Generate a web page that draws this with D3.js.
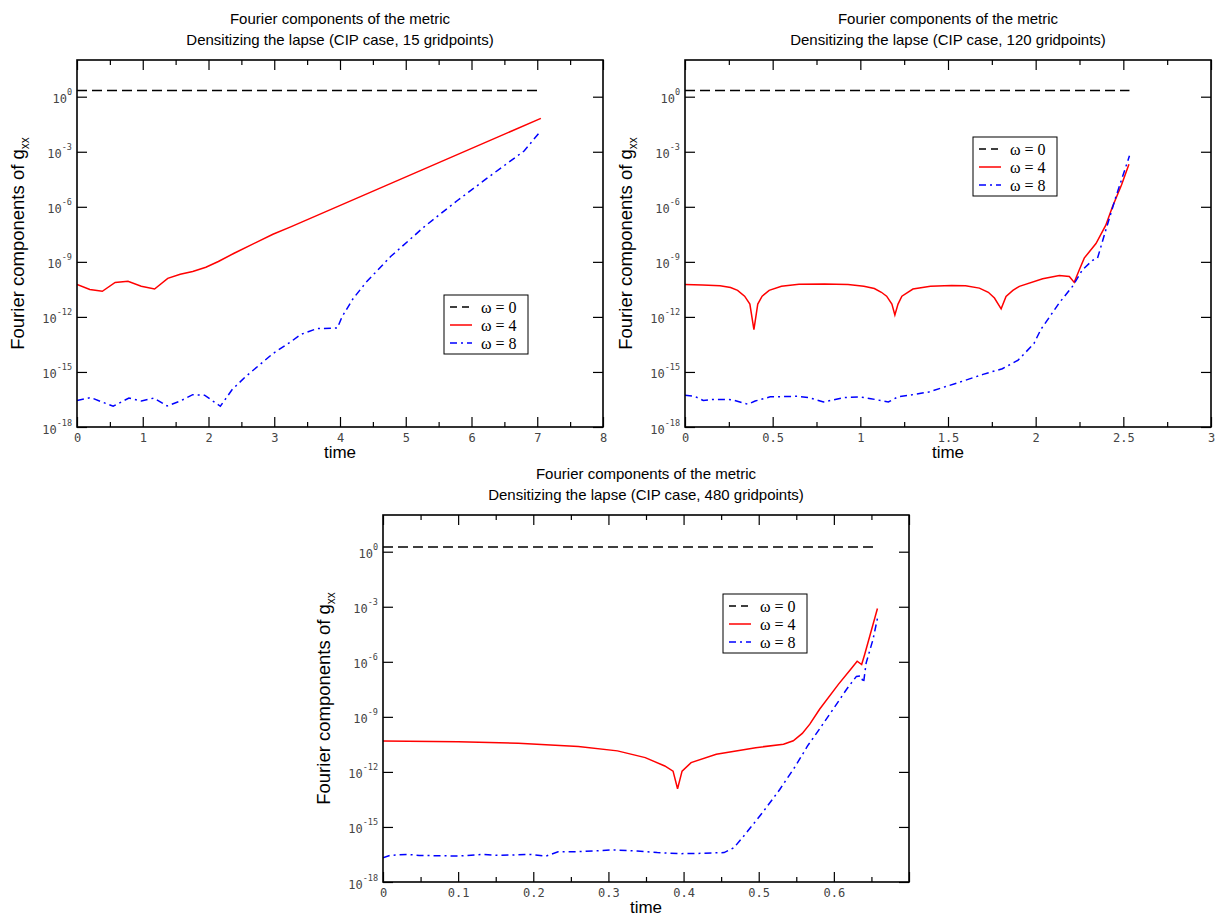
<!DOCTYPE html>
<html>
<head>
<meta charset="utf-8">
<script src="https://cdn.jsdelivr.net/npm/d3@7"></script>
<style>
  body { margin: 0; background: #fff; }
  svg { display: block; }
</style>
</head>
<body>
<svg id="chart" width="1216" height="917"></svg>
<script>
// ---------------- DATA ----------------
const titleLine1 = "Fourier components of the metric";
const titleLines2 = [
  "Densitizing the lapse (CIP case, 15 gridpoints)",
  "Densitizing the lapse (CIP case, 120 gridpoints)",
  "Densitizing the lapse (CIP case, 480 gridpoints)"
];
const legendLabels = ["\u03c9 = 0", "\u03c9 = 4", "\u03c9 = 8"];
const yTickValues = [1e0, 1e-3, 1e-6, 1e-9, 1e-12, 1e-15, 1e-18];
const yTickExponents = ["0", "-3", "-6", "-9", "-12", "-15", "-18"];

// Panel A: 15 gridpoints
const xMajorA = [0, 1, 2, 3, 4, 5, 6, 7, 8];
const xMinorA = [0.5, 1.5, 2.5, 3.5, 4.5, 5.5, 6.5, 7.5];
const xLabelsA = ["0", "1", "2", "3", "4", "5", "6", "7", "8"];
const timeA0 = [0, 7.05];
const valA0 = [2.2, 2.2];
const timeA4 = [0, 0.195, 0.385, 0.58, 0.775, 0.977, 1.18, 1.38, 1.57, 1.76, 1.96, 2.15, 2.39, 2.98, 3.25, 7.055];
const valA4 = [5.8e-11, 3.1e-11, 2.5e-11, 7.6e-11, 8.7e-11, 4.7e-11, 3.3e-11, 1.26e-10, 2.1e-10, 3.0e-10, 5.1e-10, 1.05e-9, 2.95e-9, 3.2e-8, 8.1e-8, 6.6e-2];
const timeA8 = [0, 0.21, 0.55, 0.79, 0.98, 1.17, 1.37, 1.57, 1.76, 1.94, 2.18, 2.36, 2.56, 2.98, 3.27, 3.40, 3.65, 3.96, 4.03, 4.2, 4.4, 4.77, 5.28, 5.786, 6.29, 6.80, 7.045];
const valA8 = [2.8e-17, 4.0e-17, 1.35e-17, 3.8e-17, 2.6e-17, 3.8e-17, 1.4e-17, 2.6e-17, 5.8e-17, 5.4e-17, 1.35e-17, 1.1e-16, 5.4e-16, 1.0e-14, 4.9e-14, 1.1e-13, 2.3e-13, 2.5e-13, 1.0e-12, 1.0e-11, 7.9e-11, 1.95e-9, 8.1e-8, 2.2e-6, 5.0e-5, 1.1e-3, 1.26e-2];

// Panel B: 120 gridpoints
const xMajorB = [0, 0.5, 1, 1.5, 2, 2.5, 3];
const xMinorB = [0.25, 0.75, 1.25, 1.75, 2.25, 2.75];
const xLabelsB = ["0", "0.5", "1", "1.5", "2", "2.5", "3"];
const timeB0 = [0, 2.535];
const valB0 = [2.2, 2.2];
const timeB4 = [0, 0.1, 0.2, 0.26, 0.30, 0.34, 0.37, 0.393, 0.415, 0.44, 0.48, 0.55, 0.65, 0.795, 0.93, 1.02, 1.08, 1.12, 1.15, 1.18, 1.197, 1.215, 1.237, 1.30, 1.40, 1.52, 1.60, 1.679, 1.73, 1.765, 1.803, 1.831, 1.87, 1.907, 2.04, 2.135, 2.192, 2.22, 2.249, 2.277, 2.344, 2.40, 2.438, 2.49, 2.532];
const valB4 = [5.8e-11, 5.5e-11, 5.0e-11, 4.0e-11, 2.8e-11, 1.35e-11, 5.0e-12, 2.0e-13, 5.0e-12, 1.35e-11, 2.8e-11, 4.7e-11, 6.0e-11, 6.3e-11, 5.8e-11, 4.7e-11, 3.5e-11, 2.2e-11, 1.35e-11, 5.0e-12, 1.26e-12, 5.0e-12, 1.35e-11, 3.3e-11, 4.7e-11, 5.2e-11, 5.0e-11, 3.7e-11, 2.2e-11, 1.07e-11, 2.75e-12, 1.3e-11, 2.8e-11, 4.6e-11, 1.2e-10, 1.8e-10, 1.6e-10, 7.6e-11, 3.7e-10, 1.6e-9, 1.0e-8, 1.0e-7, 1.0e-6, 1.6e-5, 2.1e-4];
const timeB8 = [0, 0.055, 0.104, 0.155, 0.265, 0.358, 0.40, 0.486, 0.64, 0.707, 0.79, 0.906, 0.994, 1.06, 1.16, 1.215, 1.28, 1.39, 1.568, 1.70, 1.81, 1.90, 1.99, 2.03, 2.135, 2.21, 2.267, 2.324, 2.353, 2.40, 2.457, 2.535];
const valB8 = [5.4e-17, 4.7e-17, 2.8e-17, 3.2e-17, 3.1e-17, 1.74e-17, 2.6e-17, 4.4e-17, 4.7e-17, 4.0e-17, 2.3e-17, 4.0e-17, 4.4e-17, 3.5e-17, 2.3e-17, 4.4e-17, 5.4e-17, 8.1e-17, 2.8e-16, 7.4e-16, 1.5e-15, 4.4e-15, 3.5e-14, 2.1e-13, 5.9e-12, 4.6e-11, 3.7e-10, 1.2e-9, 1.6e-9, 5.4e-8, 3.4e-6, 6.0e-4];

// Panel C: 480 gridpoints
const xMajorC = [0, 0.1, 0.2, 0.3, 0.4, 0.5, 0.6, 0.7];
const xMinorC = [0.05, 0.15, 0.25, 0.35, 0.45, 0.55, 0.65];
const xLabelsC = ["0", "0.1", "0.2", "0.3", "0.4", "0.5", "0.6", ""];
const timeC0 = [0, 0.658];
const valC0 = [1.8, 1.8];
const timeC4 = [0, 0.10, 0.18, 0.26, 0.312, 0.349, 0.375, 0.386, 0.392, 0.398, 0.41, 0.4435, 0.496, 0.533, 0.546, 0.558, 0.568, 0.581, 0.606, 0.623, 0.631, 0.637, 0.641, 0.658];
const valC4 = [4.9e-11, 4.4e-11, 3.6e-11, 2.4e-11, 1.4e-11, 6.0e-12, 2.1e-12, 1.1e-12, 1.2e-13, 1.1e-12, 3.2e-12, 9.1e-12, 2.1e-11, 3.2e-11, 5.0e-11, 1.26e-10, 4.0e-10, 2.6e-9, 5.9e-8, 4.2e-7, 1.07e-6, 7.1e-7, 2.5e-6, 8.1e-4];
const timeC8 = [0, 0.009, 0.033, 0.048, 0.101, 0.133, 0.154, 0.196, 0.217, 0.233, 0.259, 0.307, 0.338, 0.365, 0.396, 0.417, 0.454, 0.467, 0.482, 0.505, 0.528, 0.549, 0.565, 0.581, 0.599, 0.617, 0.630, 0.636, 0.6395, 0.643, 0.652, 0.658];
const valC8 = [2.1e-17, 2.8e-17, 3.2e-17, 2.8e-17, 2.6e-17, 3.2e-17, 2.8e-17, 3.2e-17, 2.6e-17, 4.4e-17, 4.5e-17, 5.6e-17, 4.9e-17, 4.0e-17, 3.5e-17, 3.6e-17, 4.0e-17, 7.4e-17, 4.0e-16, 6.0e-15, 1.1e-13, 2.1e-12, 2.6e-11, 2.2e-10, 2.6e-9, 3.2e-8, 1.6e-7, 1.7e-7, 7.2e-8, 8.7e-7, 1.6e-5, 2.3e-4];

// ---------------- LAYOUT / STYLE ----------------
const PW = 526, PH = 367;
const panels = [
  { left: 77, top: 60, xmax: 8, major: xMajorA, minor: xMinorA, labels: xLabelsA, title2: titleLines2[0],
    series: [[timeA0, valA0], [timeA4, valA4], [timeA8, valA8]], legend: { x: 367, y: 235 } },
  { left: 685, top: 60, xmax: 3, major: xMajorB, minor: xMinorB, labels: xLabelsB, title2: titleLines2[1],
    series: [[timeB0, valB0], [timeB4, valB4], [timeB8, valB8]], legend: { x: 288, y: 77 } },
  { left: 383, top: 515, xmax: 0.7, major: xMajorC, minor: xMinorC, labels: xLabelsC, title2: titleLines2[2],
    series: [[timeC0, valC0], [timeC4, valC4], [timeC8, valC8]], legend: { x: 340, y: 79 } }
];
const styles = [
  { color: "#000000", dash: "10,5" },
  { color: "#ff0000", dash: null },
  { color: "#0000ff", dash: "7,4,2,4" }
];
const tickFont = "'DejaVu Sans Mono', monospace";
const sansFont = "'Liberation Sans', Arial, sans-serif";
const serifFont = "'Liberation Serif', 'Times New Roman', serif";
const tickColor = "#444";

const svg = d3.select("#chart");

panels.forEach(p => {
  const g = svg.append("g").attr("transform", `translate(${p.left},${p.top})`);
  const x = d3.scaleLinear().domain([0, p.xmax]).range([0, PW]);
  const y = d3.scaleLog().domain([1e-18, 1e2]).range([PH, 0]);

  const clipId = "clip" + p.left + "_" + p.top;
  g.append("clipPath").attr("id", clipId).append("rect").attr("width", PW).attr("height", PH);

  const line = d3.line().x(d => x(d[0])).y(d => y(d[1]));
  p.series.forEach((s, i) => {
    const pts = s[0].map((t, k) => [t, s[1][k]]);
    g.append("path")
      .attr("clip-path", `url(#${clipId})`)
      .attr("d", line(pts))
      .attr("fill", "none")
      .attr("stroke", styles[i].color)
      .attr("stroke-width", 1.5)
      .attr("stroke-dasharray", styles[i].dash)
      .attr("stroke-linejoin", "miter");
  });

  const xb = g.append("g").attr("transform", `translate(0,${PH})`)
    .call(d3.axisBottom(x).tickValues(p.major).tickSize(-10).tickPadding(6)
      .tickFormat((d, i) => p.labels[i]));
  const xbm = g.append("g").attr("transform", `translate(0,${PH})`)
    .call(d3.axisBottom(x).tickValues(p.minor).tickSize(-5).tickFormat(""));
  const xt = g.append("g")
    .call(d3.axisTop(x).tickValues(p.major).tickSize(-10).tickFormat(""));
  const xtm = g.append("g")
    .call(d3.axisTop(x).tickValues(p.minor).tickSize(-5).tickFormat(""));
  const yl = g.append("g")
    .call(d3.axisLeft(y).tickValues(yTickValues).tickSize(-10).tickPadding(4).tickFormat(() => ""));
  const yr = g.append("g").attr("transform", `translate(${PW},0)`)
    .call(d3.axisRight(y).tickValues(yTickValues).tickSize(-10).tickFormat(""));

  [xb, xbm, xt, xtm, yl, yr].forEach(a => {
    a.select(".domain").remove();
    a.selectAll(".tick line").attr("stroke", "#000").attr("stroke-width", 1.2);
  });
  xb.selectAll(".tick text")
    .attr("font-family", tickFont).attr("font-size", 12).attr("fill", tickColor);

  yl.selectAll(".tick text").each(function(d, i) {
    const t = d3.select(this);
    t.text(null)
      .attr("font-family", tickFont).attr("fill", tickColor)
      .attr("x", -5).attr("dy", "0.6em").attr("text-anchor", "end");
    t.append("tspan").attr("font-size", 12).text("10");
    t.append("tspan").attr("font-size", 8.5).attr("dy", -8).text(yTickExponents[i]);
  });

  g.append("rect").attr("width", PW).attr("height", PH)
    .attr("fill", "none").attr("stroke", "#000").attr("stroke-width", 1.6);

  g.append("text").attr("x", PW / 2).attr("y", -36).attr("text-anchor", "middle")
    .attr("font-family", sansFont).attr("font-size", 15).attr("fill", "#000").text(titleLine1);
  g.append("text").attr("x", PW / 2).attr("y", -15).attr("text-anchor", "middle")
    .attr("font-family", sansFont).attr("font-size", 15).attr("fill", "#000").text(p.title2);

  g.append("text").attr("x", PW / 2).attr("y", PH + 31).attr("text-anchor", "middle")
    .attr("font-family", sansFont).attr("font-size", 17).attr("fill", "#000").text("time");
  const yt = g.append("text")
    .attr("transform", `translate(-53,${PH / 2}) rotate(-90)`)
    .attr("text-anchor", "middle")
    .attr("font-family", sansFont).attr("font-size", 18.5).attr("fill", "#000");
  yt.append("tspan").text("Fourier components of g");
  yt.append("tspan").attr("font-size", 12).attr("dy", 5).text("xx");

  const lg = g.append("g").attr("transform", `translate(${p.legend.x},${p.legend.y})`);
  lg.append("rect").attr("width", 84).attr("height", 59)
    .attr("fill", "#fff").attr("stroke", "#000").attr("stroke-width", 1);
  legendLabels.forEach((lab, i) => {
    const ry = 12 + i * 18;
    lg.append("line").attr("x1", 6).attr("x2", 28).attr("y1", ry).attr("y2", ry)
      .attr("stroke", styles[i].color).attr("stroke-width", 1.5)
      .attr("stroke-dasharray", i === 0 ? "7,5" : styles[i].dash);
    lg.append("text").attr("x", 37).attr("y", ry + 5.5)
      .attr("font-family", serifFont).attr("font-size", 16).attr("fill", "#000").text(lab);
  });
});
</script>
</body>
</html>
